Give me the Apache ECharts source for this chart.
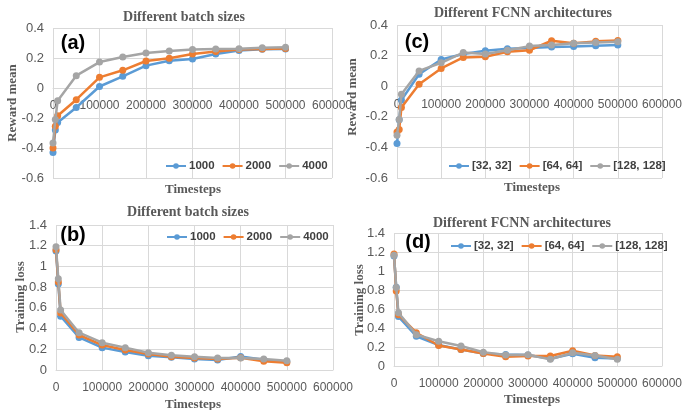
<!DOCTYPE html>
<html>
<head>
<meta charset="utf-8">
<script src="https://cdn.jsdelivr.net/npm/echarts@6/dist/echarts.min.js"></script>
<style>
  html, body { margin: 0; padding: 0; background: #fff; }
  #main { width: 685px; height: 410px; }
</style>
</head>
<body>
<div id="main"></div>
<script>
// 时间步（横轴）
const steps = [0, 5000, 10000, 50000, 100000, 150000, 200000, 250000, 300000, 350000, 400000, 450000, 500000]

// (a) batch sizes - reward mean
const rewardB1000 = [-0.43, -0.28, -0.23, -0.13, 0.01, 0.078, 0.149, 0.182, 0.193, 0.227, 0.25, 0.258, 0.26]
const rewardB2000 = [-0.40, -0.255, -0.185, -0.078, 0.071, 0.118, 0.18, 0.198, 0.227, 0.244, 0.256, 0.26, 0.264]
const rewardB4000 = [-0.367, -0.21, -0.085, 0.082, 0.173, 0.207, 0.233, 0.247, 0.256, 0.26, 0.262, 0.269, 0.271]

// (b) batch sizes - training loss
const lossB1000 = [1.15, 0.83, 0.52, 0.315, 0.216, 0.174, 0.138, 0.122, 0.106, 0.097, 0.13, 0.1, 0.08]
const lossB2000 = [1.16, 0.85, 0.55, 0.338, 0.241, 0.193, 0.154, 0.129, 0.116, 0.106, 0.119, 0.084, 0.071]
const lossB4000 = [1.19, 0.88, 0.58, 0.36, 0.264, 0.216, 0.167, 0.142, 0.129, 0.116, 0.116, 0.106, 0.09]

// (c) FCNN architectures - reward mean
const rewardA32 = [-0.375, -0.22, -0.09, 0.078, 0.175, 0.21, 0.231, 0.244, 0.25, 0.257, 0.26, 0.265, 0.27]
const rewardA64 = [-0.30, -0.283, -0.14, 0.013, 0.116, 0.188, 0.192, 0.225, 0.235, 0.297, 0.28, 0.293, 0.299]
const rewardA128 = [-0.32, -0.218, -0.052, 0.10, 0.153, 0.22, 0.21, 0.235, 0.262, 0.27, 0.28, 0.285, 0.29]

// (d) FCNN architectures - training loss
const lossA32 = [1.157, 0.83, 0.52, 0.313, 0.22, 0.174, 0.132, 0.122, 0.115, 0.077, 0.129, 0.087, 0.08]
const lossA64 = [1.18, 0.79, 0.54, 0.35, 0.216, 0.174, 0.132, 0.098, 0.105, 0.105, 0.16, 0.11, 0.098]
const lossA128 = [1.167, 0.826, 0.56, 0.33, 0.26, 0.21, 0.146, 0.115, 0.118, 0.07, 0.139, 0.11, 0.07]

const batchNames = ['1000', '2000', '4000']
const archNames = ['[32, 32]', '[64, 64]', '[128, 128]']
const xTicks = { min: 0, max: 600000, interval: 100000 }
const rewardTicks = { min: -0.6, max: 0.4, interval: 0.2 }
const lossTicks = { min: 0, max: 1.4, interval: 0.2 }

const colors = ['#5B9BD5', '#ED7D31', '#A5A5A5']
const gridColor = '#d9d9d9'
const labelColor = '#595959'

// 四个绘图区
const grids = [
  { left: 53, top: 28, width: 279, height: 150 },
  { left: 56, top: 225, width: 277, height: 145 },
  { left: 397, top: 25, width: 268, height: 153 },
  { left: 394, top: 233, width: 272, height: 133 }
]

function zip (ys) {
  return steps.map((x, i) => [x, ys[i]])
}

// 横轴放在 y=0 处（像 Excel 一样），标签跟着轴走
function xAxisOf (gridIndex, yTicks) {
  let frac = (0 - yTicks.min) / (yTicks.max - yTicks.min)
  return {
    type: 'value',
    gridIndex: gridIndex,
    min: xTicks.min,
    max: xTicks.max,
    interval: xTicks.interval,
    offset: -grids[gridIndex].height * frac,
    axisTick: { show: false },
    axisLine: { onZero: false, lineStyle: { color: gridColor, width: 1 } },
    axisLabel: {
      color: labelColor, fontSize: 12, fontFamily: 'Liberation Sans', margin: 12,
      formatter: function (v) { return String(v) }
    },
    splitLine: { lineStyle: { color: gridColor } }
  }
}

function yAxisOf (gridIndex, ticks) {
  return {
    type: 'value',
    gridIndex: gridIndex,
    min: ticks.min,
    max: ticks.max,
    interval: ticks.interval,
    axisTick: { show: false },
    axisLine: { show: false },
    axisLabel: {
      color: labelColor, fontSize: 13, fontFamily: 'Liberation Sans', margin: 9,
      formatter: function (v) { return String(+v.toFixed(1)) }
    },
    splitLine: { lineStyle: { color: gridColor } }
  }
}

function seriesOf (names, lists, axisIndex) {
  return lists.map((ys, k) => ({
    name: names[k],
    type: 'line',
    xAxisIndex: axisIndex,
    yAxisIndex: axisIndex,
    data: zip(ys),
    symbol: 'circle',
    symbolSize: 7,
    color: colors[k],
    lineStyle: { width: 2.5 },
    z: 2 + k
  }))
}

function legendOf (names, left, top) {
  return {
    data: names,
    left: left,
    top: top,
    width: 300,
    padding: 0,
    itemWidth: 20,
    itemHeight: 7,
    itemGap: 7,
    textStyle: { color: '#404040', fontSize: 11.5, fontWeight: 'bold', fontFamily: 'Liberation Sans', padding: [0, 0, 0, -2] }
  }
}

function text (str, x, y, font, opts) {
  return Object.assign({
    type: 'text',
    x: x,
    y: y,
    style: {
      text: str,
      font: font,
      fill: opts && opts.fill || labelColor,
      textAlign: 'center',
      textVerticalAlign: 'middle'
    }
  }, opts && opts.extra || {})
}

const titleFont = 'bold 14px "Liberation Serif"'
const axisNameFont = 'bold 13px "Liberation Serif"'
const tagFont = 'bold 20px "Liberation Sans"'

let myChart = echarts.init(document.getElementById('main'))
let option = {
  animation: false,
  backgroundColor: '#fff',
  grid: grids,
  xAxis: [xAxisOf(0, rewardTicks), xAxisOf(1, lossTicks), xAxisOf(2, rewardTicks), xAxisOf(3, lossTicks)],
  yAxis: [yAxisOf(0, rewardTicks), yAxisOf(1, lossTicks), yAxisOf(2, rewardTicks), yAxisOf(3, lossTicks)],
  legend: [
    legendOf(batchNames, 165, 160),
    legendOf(batchNames, 166, 231),
    legendOf(archNames, 448, 160),
    legendOf(archNames, 450, 240)
  ],
  series: [].concat(
    seriesOf(batchNames, [rewardB1000, rewardB2000, rewardB4000], 0),
    seriesOf(batchNames, [lossB1000, lossB2000, lossB4000], 1),
    seriesOf(archNames, [rewardA32, rewardA64, rewardA128], 2),
    seriesOf(archNames, [lossA32, lossA64, lossA128], 3)
  ),
  graphic: [
    // 标题
    text('Different batch sizes', 184, 17, titleFont),
    text('Different batch sizes', 188, 212, titleFont),
    text('Different FCNN architectures', 523, 13, titleFont),
    text('Different FCNN architectures', 522, 223, titleFont),
    // 横轴名称
    text('Timesteps', 193, 190, axisNameFont),
    text('Timesteps', 193, 405, axisNameFont),
    text('Timesteps', 532, 188, axisNameFont),
    text('Timesteps', 532, 400, axisNameFont),
    // 纵轴名称（竖排）
    text('Reward mean', 13, 103, axisNameFont, { extra: { rotation: Math.PI / 2 } }),
    text('Training loss', 21, 297, axisNameFont, { extra: { rotation: Math.PI / 2 } }),
    text('Reward mean', 353, 97, axisNameFont, { extra: { rotation: Math.PI / 2 } }),
    text('Training loss', 360, 300, axisNameFont, { extra: { rotation: Math.PI / 2 } }),
    // 子图编号
    text('(a)', 73, 43, tagFont, { fill: '#000' }),
    text('(b)', 73, 235, tagFont, { fill: '#000' }),
    text('(c)', 417, 42, tagFont, { fill: '#000' }),
    text('(d)', 418, 242, tagFont, { fill: '#000' })
  ]
}

myChart.setOption(option)

window.addEventListener('resize', function () {
  myChart.resize()
})
</script>
</body>
</html>
